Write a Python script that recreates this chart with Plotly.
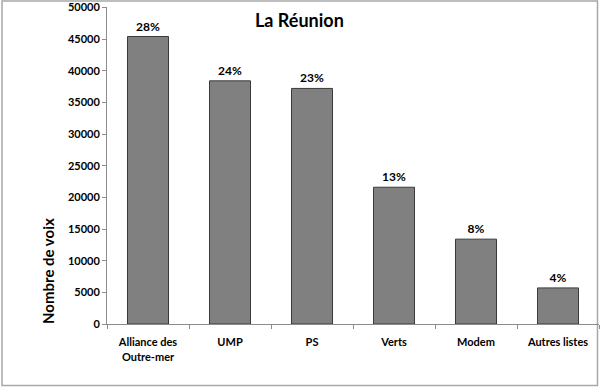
import plotly.graph_objects as go

categories = ["Alliance des<br>Outre-mer", "UMP", "PS", "Verts", "Modem", "Autres listes"]
votes = [45400, 38400, 37200, 21600, 13400, 5700]
pct_labels = ["28%", "24%", "23%", "13%", "8%", "4%"]
y_ticks = list(range(0, 50001, 5000))

W, H = 600, 388
L, R, T, B = 107, 1, 7, 64
pw, ph = W - L - R, H - T - B

def px(x):
    return (x - L) / pw

def py(y):
    return (H - B - y) / ph

FONT = "Lato"

fig = go.Figure(go.Bar(
    x=categories, y=votes, width=0.5,
    marker=dict(color="#808080", line=dict(color="#3a3a3a", width=1)),
    text=pct_labels, textposition="outside", cliponaxis=False,
    textfont=dict(family=FONT, size=12, color="black", weight="bold"),
))

fig.update_layout(
    width=W, height=H,
    margin=dict(l=L, r=R, t=T, b=B),
    paper_bgcolor="white", plot_bgcolor="white",
    showlegend=False,
    font=dict(family=FONT, color="black"),
    xaxis=dict(
        showline=True, linecolor="#8c8c8c", linewidth=1,
        ticks="outside", ticklen=4, tickcolor="#8c8c8c", tickson="boundaries",
        ticklabelstandoff=8,
        tickfont=dict(family=FONT, size=11, color="black", weight="bold"),
        showgrid=False,
    ),
    yaxis=dict(
        range=[0, 50060], tickvals=y_ticks, tickformat="d",
        showline=True, linecolor="#8c8c8c", linewidth=1,
        ticks="outside", ticklen=4, tickcolor="#8c8c8c",
        tickfont=dict(family=FONT, size=11, color="black", weight="bold"),
        showgrid=False, zeroline=False,
    ),
    shapes=[dict(type="rect", xref="paper", yref="paper",
                 x0=px(2), x1=px(597.5), y0=py(385.5), y1=py(1),
                 line=dict(color="#a8a8a8", width=1.5), layer="below")],
    annotations=[
        dict(text="<b>La Réunion</b>", xref="paper", yref="paper",
             x=px(299), y=py(20), xanchor="center", yanchor="middle", showarrow=False,
             font=dict(family=FONT, size=18, color="black")),
        dict(text="<b>Nombre de voix</b>", xref="paper", yref="paper",
             x=px(48), y=py(271), xanchor="center", yanchor="middle",
             showarrow=False, textangle=-90,
             font=dict(family=FONT, size=15, color="black")),
    ],
)

fig.write_html("out.html")
